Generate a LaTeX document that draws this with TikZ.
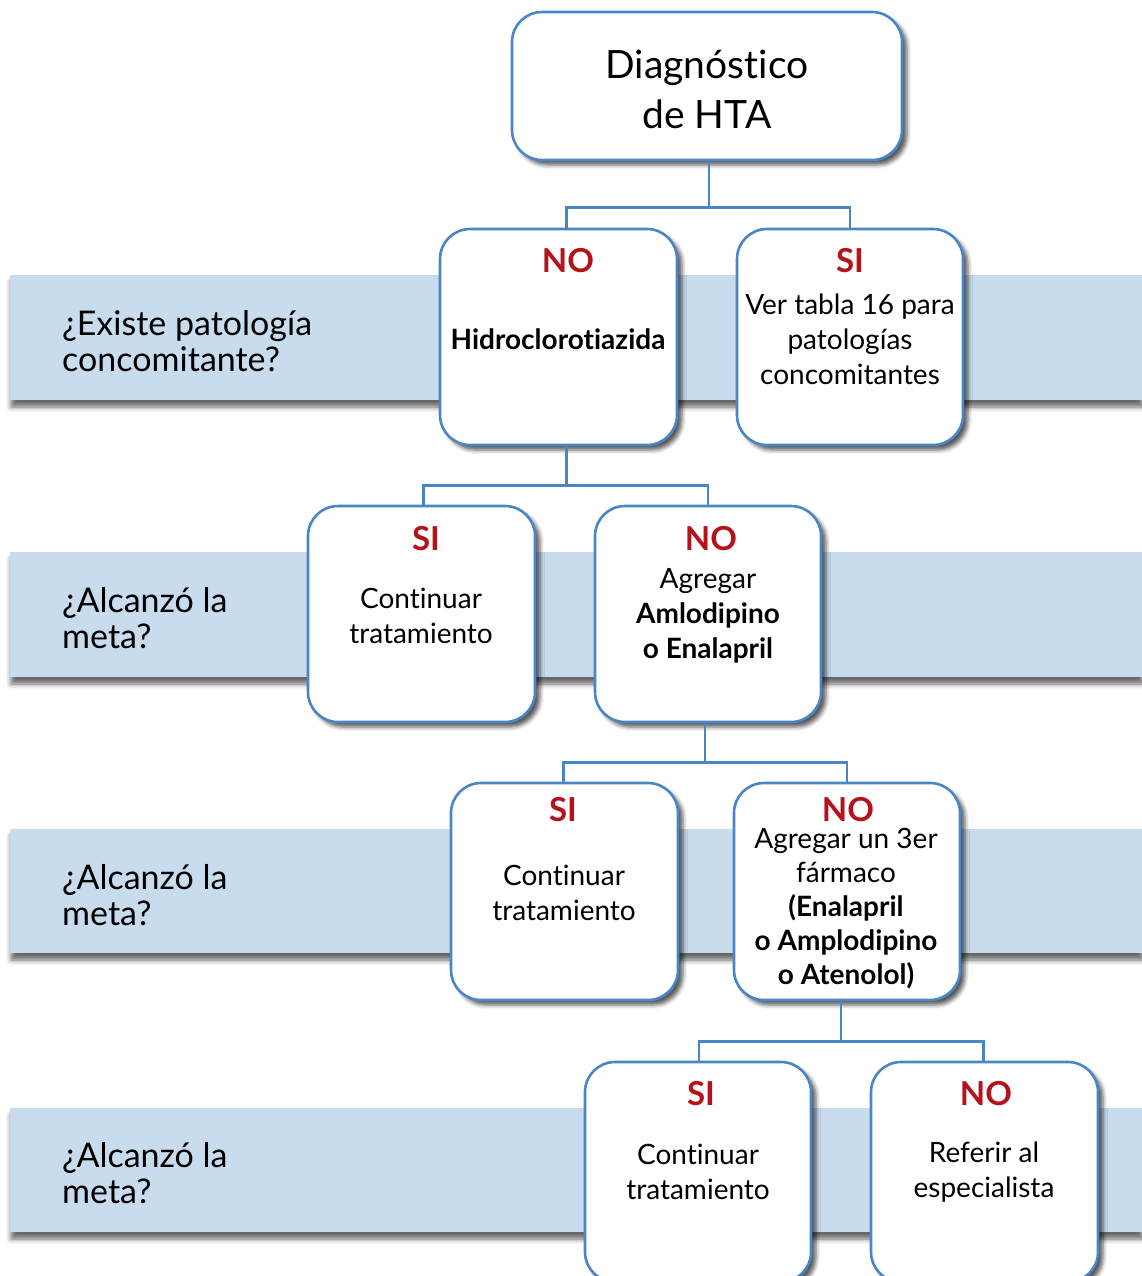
\documentclass[tikz,border=0pt]{standalone}
\usepackage{fontspec}
\setmainfont[Ligatures={NoCommon}]{Lato}
\usetikzlibrary{shadows.blur,calc}
\definecolor{bandblue}{HTML}{C9DCEE}
\definecolor{lineblue}{HTML}{4A86C5}
\definecolor{nored}{HTML}{B5121B}
\tikzset{
  band/.style={fill=bandblue, draw=none, blur shadow={shadow xshift=1pt, shadow yshift=-7pt, shadow blur radius=5pt, shadow opacity=60}},
  box/.style={draw=lineblue, line width=2.6pt, fill=white, rounded corners=30pt, inner sep=0pt,
    blur shadow={shadow xshift=5pt, shadow yshift=-5pt, shadow blur radius=4pt, shadow opacity=65}},
  conn/.style={draw=lineblue, line width=2.4pt, line join=miter},
  ans/.style={text=nored, font=\fontsize{33}{36}\selectfont\bfseries, inner sep=0pt},
  body/.style={font=\fontsize{28}{35}\selectfont, align=center, inner sep=0pt},
  quest/.style={font=\fontsize{34}{36}\selectfont, align=left, anchor=west, inner sep=0pt},
  title/.style={font=\fontsize{39}{50}\selectfont, align=center, inner sep=0pt},
}
\begin{document}
\begin{tikzpicture}[x=1pt, y=-1pt]
\useasboundingbox (0,0) rectangle (1142,1276);
\clip (0,0) rectangle (1142,1276);
% bands
\path[band] (10,275) rectangle (1142,400);
\path[band] (10,552) rectangle (1142,677);
\path[band] (10,829) rectangle (1142,953);
\path[band] (10,1108) rectangle (1142,1232);
% band questions
\node[quest] (q1) at (62,341) {¿Existe patología\\concomitante?};
\node[quest] (q2) at (62,618) {¿Alcanzó la\\meta?};
\node[quest] (q3) at (62,895) {¿Alcanzó la\\meta?};
\node[quest] (q4) at (62,1173) {¿Alcanzó la\\meta?};
% boxes
\node[box, minimum width=390pt, minimum height=148pt] (top) at (707,86) {};
\node[box, minimum width=237pt, minimum height=216pt] (n1) at (558.5,337) {};
\node[box, minimum width=226pt, minimum height=216pt] (s1) at (850,337) {};
\node[box, minimum width=227pt, minimum height=216pt] (s2) at (421.5,614) {};
\node[box, minimum width=226pt, minimum height=216pt] (n2) at (708,614) {};
\node[box, minimum width=227pt, minimum height=217pt] (s3) at (564.5,891.5) {};
\node[box, minimum width=226pt, minimum height=217pt] (n3) at (847,891.5) {};
\node[box, minimum width=226pt, minimum height=220pt] (s4) at (698,1172) {};
\node[box, minimum width=227pt, minimum height=220pt] (n4) at (984.5,1172) {};
% connectors
\draw[conn] ($(top.south)+(2,0)$) -- ++(0,46) coordinate (j1);
\draw[conn] (j1) -| ($(n1.north)+(8,0)$);
\draw[conn] (j1) -| (s1.north);
\draw[conn] ($(n1.south)+(8,0)$) -- ++(0,39) coordinate (j2);
\draw[conn] (j2) -| ($(s2.north)+(2,0)$);
\draw[conn] (j2) -| (n2.north);
\draw[conn] ($(n2.south)+(-3,0)$) -- ++(0,39) coordinate (j3);
\draw[conn] (j3) -| ($(s3.north)+(-1,0)$);
\draw[conn] (j3) -| (n3.north);
\draw[conn] ($(n3.south)+(-6,0)$) -- ++(0,40) coordinate (j4);
\draw[conn] (j4) -| ($(s4.north)+(1,0)$);
\draw[conn] (j4) -| ($(n4.north)+(-1,0)$);
% texts
\node[title] (t0) at (707,89) {Diagnóstico\\de HTA};
\node[ans] (a1) at (568,261) {NO};
\node[ans] (a2) at (850,261) {SI};
\node[body, font=\fontsize{28}{35}\selectfont\bfseries] (b1) at (558,339) {Hidroclorotiazida};
\node[body] (b2) at (850,339) {Ver tabla 16 para\\patologías\\concomitantes};
\node[ans] (a3) at (426,539) {SI};
\node[ans] (a4) at (711,539) {NO};
\node[body] (b3) at (421,616) {Continuar\\tratamiento};
\node[body] (b4) at (708,616) {Agregar\\\textbf{Amlodipino}\\\textbf{o Enalapril}};
\node[ans] (a5) at (563,810) {SI};
\node[ans] (a6) at (848,810) {NO};
\node[body] (b5) at (564,893) {Continuar\\tratamiento};
\node[body, font=\fontsize{28}{34}\selectfont] (b6) at (846,909) {Agregar un 3er\\fármaco\\\textbf{(Enalapril}\\\textbf{o Amplodipino}\\\textbf{o Atenolol)}};
\node[ans] (a7) at (701,1094) {SI};
\node[ans] (a8) at (986,1094) {NO};
\node[body] (b7) at (698,1172) {Continuar\\tratamiento};
\node[body] (b8) at (984,1172) {Referir al\\especialista};
\end{tikzpicture}
\end{document}
